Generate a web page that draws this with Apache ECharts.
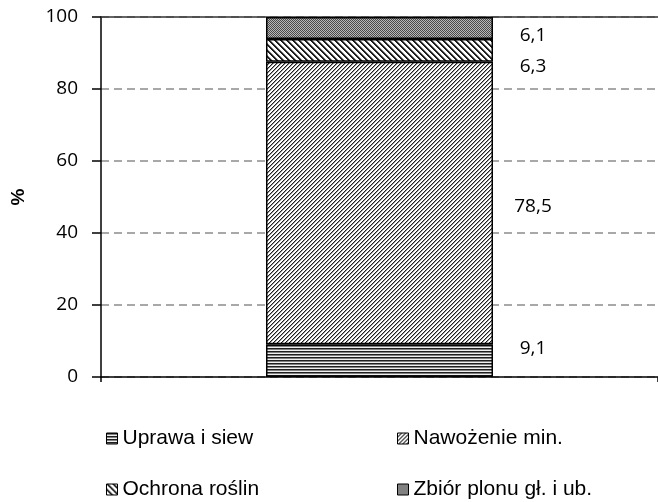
<!DOCTYPE html>
<html>
<head>
<meta charset="utf-8">
<script src="https://cdn.jsdelivr.net/npm/echarts@6/dist/echarts.min.js"></script>
<style>
html,body{margin:0;padding:0;background:#fff;}
#chart{width:658px;height:502px;}
</style>
</head>
<body>
<div id="chart"></div>
<script>
// ---- data ----
var categories = [''];
var seriesNames = ['Uprawa i siew', 'Nawożenie min.', 'Ochrona roślin', 'Zbiór plonu gł. i ub.'];
var uprawa = [9.1];
var nawozenie = [78.5];
var ochrona = [6.3];
var zbior = [6.1];
var valueLabels = ['9,1', '78,5', '6,3', '6,1'];
var yTicks = [0, 20, 40, 60, 80, 100];

// ---- patterns ----
function makePattern(w, h, fn) {
  var c = document.createElement('canvas');
  c.width = w; c.height = h;
  var ctx = c.getContext('2d');
  for (var y = 0; y < h; y++) {
    for (var x = 0; x < w; x++) {
      ctx.fillStyle = fn(x, y);
      ctx.fillRect(x, y, 1, 1);
    }
  }
  return { image: c, repeat: 'repeat' };
}
var patHoriz = makePattern(3, 3, function (x, y) {
  return ['#1e1e1e', '#808080', '#f0f0f0'][y];
});
var patSlash = makePattern(4, 4, function (x, y) {
  var m = (x + y) % 4;
  return m === 3 ? '#1e1e1e' : (m === 0 ? '#9a9a9a' : '#ffffff');
});
var patBack = makePattern(6, 6, function (x, y) {
  var m = ((x - y) % 6 + 6) % 6;
  return (m === 0 || m === 1) ? '#1e1e1e' : (m === 2 ? '#8a8a8a' : '#ffffff');
});
var patCheck = makePattern(2, 2, function (x, y) {
  return ((x + y) % 2 === 0) ? '#4a4a4a' : '#b8b8b8';
});
var patterns = [patHoriz, patSlash, patBack, patCheck];
var values = [uprawa, nawozenie, ochrona, zbior];
var labelOffsets = [[0, -12], [0, 4], [0, 16], [0, 8]];

var tickFont = '"Open Sans", "Liberation Sans", sans-serif';
var legendFont = '"Liberation Sans", Arial, sans-serif';

var series = seriesNames.map(function (name, i) {
  return {
    name: name,
    type: 'bar',
    stack: 'total',
    barWidth: 227,
    data: values[i],
    itemStyle: { color: patterns[i], borderColor: '#000', borderWidth: 1.5 },
    label: {
      show: true,
      position: 'right',
      distance: 40,
      align: 'center',
      offset: labelOffsets[i],
      formatter: function () { return valueLabels[i]; },
      color: '#000',
      fontSize: 19,
      fontFamily: tickFont
    }
  };
});

var legendPos = [[106, 428], [397, 428], [106, 479], [397, 479]];
var legends = seriesNames.map(function (name, i) {
  return {
    data: [name],
    left: legendPos[i][0],
    top: legendPos[i][1],
    itemWidth: 11,
    itemHeight: 11,
    itemGap: 2,
    icon: 'rect',
    selectedMode: false,
    padding: 0,
    itemStyle: { borderColor: '#000', borderWidth: 1 },
    textStyle: { fontSize: 21, lineHeight: 21, color: '#000', fontFamily: legendFont }
  };
});

var chart = echarts.init(document.getElementById('chart'), null, { renderer: 'canvas' });
chart.setOption({
  animation: false,
  backgroundColor: '#fff',
  grid: { left: 101, right: -2, top: 17, bottom: 125, containLabel: false },
  legend: legends,
  xAxis: [{
    type: 'category',
    data: categories,
    axisLine: { lineStyle: { color: '#000', width: 1.5 } },
    axisTick: { show: true, length: 5, lineStyle: { color: '#000', width: 1.5 } },
    axisLabel: { show: false }
  }, {
    type: 'category',
    position: 'top',
    data: categories,
    axisLine: { lineStyle: { color: '#333', width: 1.5 } },
    axisTick: { show: false },
    axisLabel: { show: false }
  }],
  yAxis: {
    type: 'value',
    min: yTicks[0],
    max: yTicks[yTicks.length - 1],
    interval: yTicks[1] - yTicks[0],
    name: '%',
    nameLocation: 'middle',
    nameGap: 73,
    nameRotate: 90,
    nameTextStyle: { fontSize: 19, fontWeight: 'bold', color: '#000', fontFamily: legendFont },
    axisLine: { show: true, lineStyle: { color: '#000', width: 1.5 } },
    axisTick: { show: true, length: 9, lineStyle: { color: '#000', width: 1.5 } },
    axisLabel: { color: '#000', fontSize: 19, margin: 23, fontFamily: tickFont },
    splitLine: { show: true, lineStyle: { color: '#8c8c8c', type: [8, 5], width: 1.5 } }
  },
  series: series
});
</script>
</body>
</html>
